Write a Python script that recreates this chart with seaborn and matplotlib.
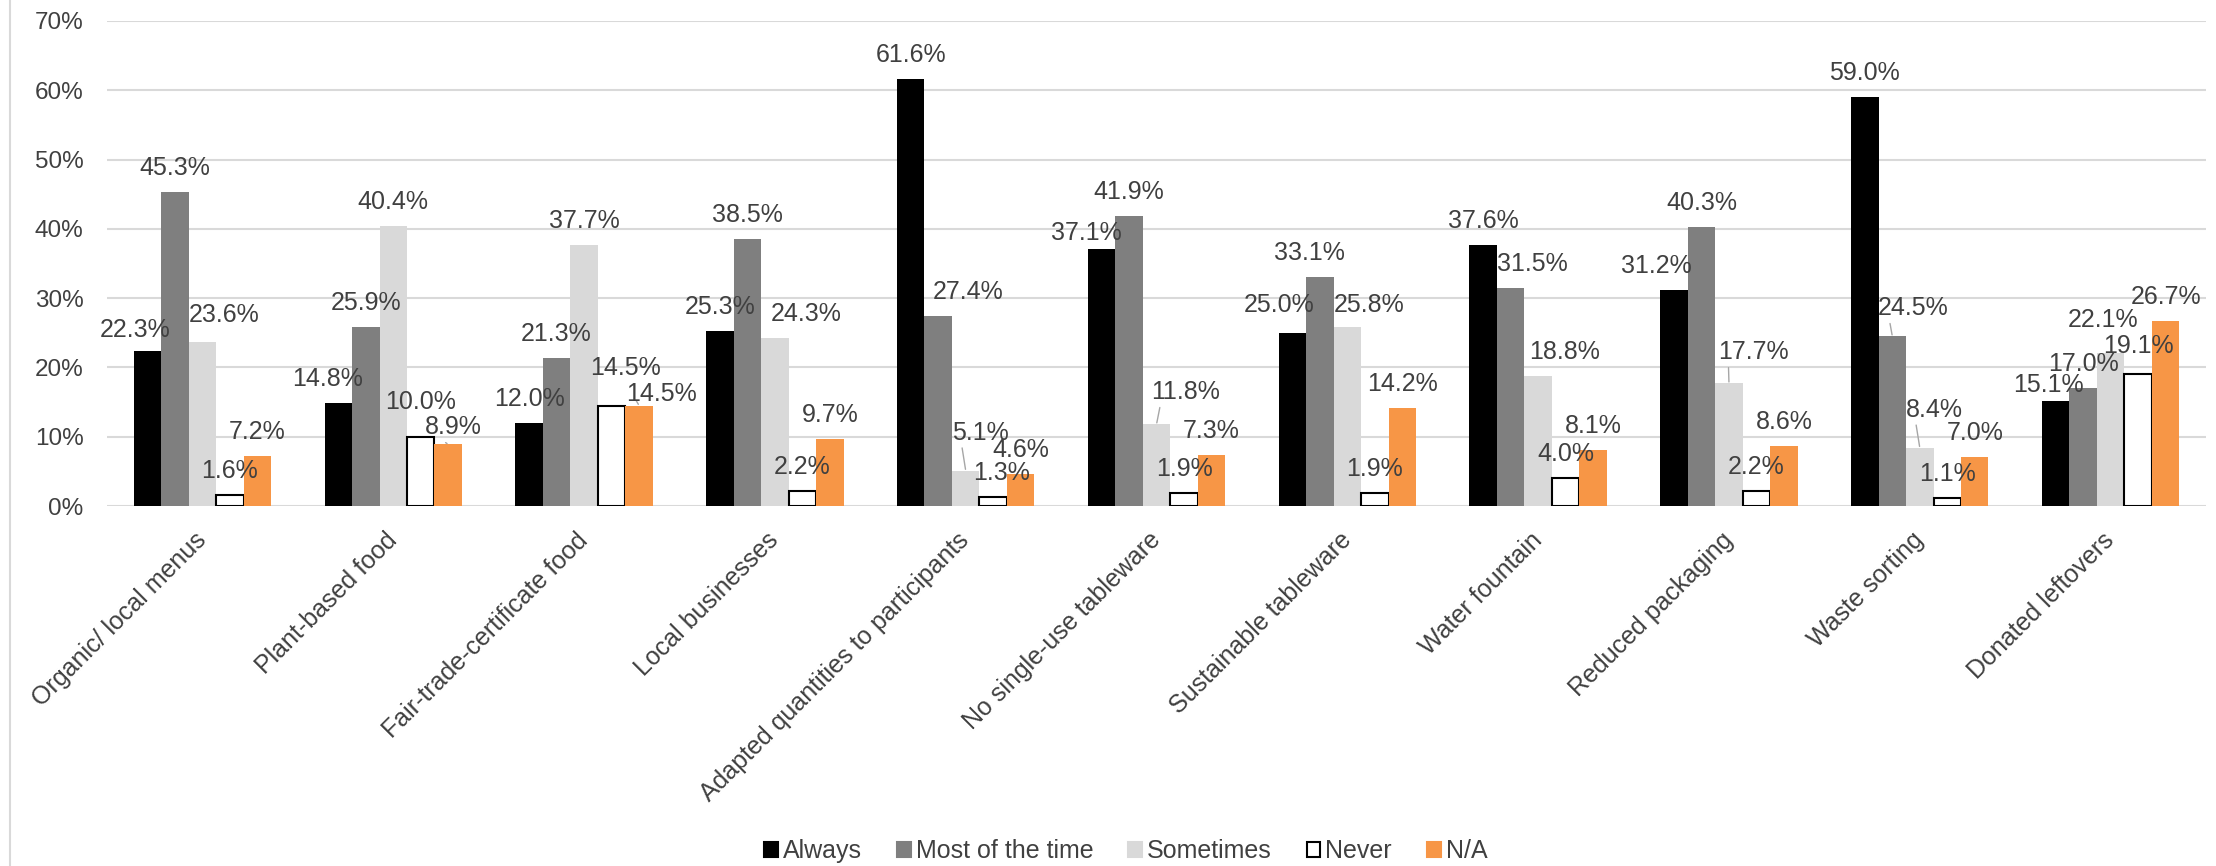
import pandas as pd
import seaborn as sns
import matplotlib.pyplot as plt
from matplotlib.patches import Patch

# survey answers, percent of respondents
categories = ['Organic/ local menus', 'Plant-based food', 'Fair-trade-certificate food',
              'Local businesses', 'Adapted quantities to participants', 'No single-use tableware',
              'Sustainable tableware', 'Water fountain', 'Reduced packaging', 'Waste sorting',
              'Donated leftovers']
responses = ['Always', 'Most of the time', 'Sometimes', 'Never', 'N/A']

always = [22.3, 14.8, 12.0, 25.3, 61.6, 37.1, 25.0, 37.6, 31.2, 59.0, 15.1]
most_of_the_time = [45.3, 25.9, 21.3, 38.5, 27.4, 41.9, 33.1, 31.5, 40.3, 24.5, 17.0]
sometimes = [23.6, 40.4, 37.7, 24.3, 5.1, 11.8, 25.8, 18.8, 17.7, 8.4, 22.1]
never = [1.6, 10.0, 14.5, 2.2, 1.3, 1.9, 1.9, 4.0, 2.2, 1.1, 19.1]
not_applicable = [7.2, 8.9, 14.5, 9.7, 4.6, 7.3, 14.2, 8.1, 8.6, 7.0, 26.7]

colors = ['#000000', '#7f7f7f', '#d9d9d9', '#ffffff', '#f79646']
text_color = '#404040'

# label nudges in pixels: (category, response) -> (dx, dy, leader line)
nudges = {
    (0, 0): (-12, -3, False), (0, 2): (22, 3, False),
    (1, 0): (-11, 0, False), (1, 3): (0, 11, False), (1, 4): (5, -7, True),
    (2, 3): (14, 14, False), (2, 4): (22, -12, True),
    (3, 2): (31, 0, False),
    (4, 1): (30, 0, False), (4, 2): (15, 14, True), (4, 3): (8, 0, False),
    (5, 0): (-15, -8, False), (5, 2): (29, 8, True),
    (6, 0): (-13, 4, False), (6, 1): (-10, 0, False), (6, 2): (22, -2, False),
    (7, 1): (22, 0, False), (7, 2): (26, 0, False),
    (8, 0): (-18, 0, False), (8, 2): (24, 7, True),
    (9, 1): (21, 4, True), (9, 2): (15, 14, True),
    (10, 0): (-7, -8, False), (10, 2): (-8, 9, False), (10, 3): (0, 4, False),
}

rows = []
for resp, vals in zip(responses, [always, most_of_the_time, sometimes, never, not_applicable]):
    for cat, v in zip(categories, vals):
        rows.append({'category': cat, 'response': resp, 'value': v})
df = pd.DataFrame(rows)

sns.set_style('white')
plt.rcParams['font.family'] = ['Liberation Sans', 'DejaVu Sans']

fig, ax = plt.subplots(figsize=(22.16, 8.66), dpi=100)
fig.subplots_adjust(left=0.0483, right=0.9955, bottom=0.4157, top=0.9758)

sns.barplot(data=df, x='category', y='value', hue='response', order=categories,
            hue_order=responses, palette=colors, width=0.72, saturation=1,
            errorbar=None, legend=False, ax=ax)

px = 0.72  # points per pixel at 100 dpi
for i, cont in enumerate(ax.containers):
    for j, bar in enumerate(cont):
        if responses[i] == 'Never':
            bar.set_edgecolor('black')
            bar.set_linewidth(1.5)
        else:
            bar.set_linewidth(0)
        x = bar.get_x() + bar.get_width() / 2
        h = bar.get_height()
        dx, dy, leader = nudges.get((j, i), (0, 0, False))
        props = None
        if leader:
            props = dict(arrowstyle='-', color='#a6a6a6', lw=1, shrinkA=0, shrinkB=1,
                         relpos=(0.15, 0.2))
        ax.annotate(f'{h:.1f}%', xy=(x, h), xytext=(dx * px, (24 + dy) * px),
                    textcoords='offset points', ha='center', va='center',
                    fontsize=18, color=text_color, arrowprops=props)

ax.set_ylim(0, 70)
ax.set_yticks(range(0, 71, 10))
ax.set_yticklabels([f'{t}%' for t in range(0, 71, 10)])
ax.set_xlabel('')
ax.set_ylabel('')
ax.yaxis.grid(True, color='#d9d9d9', lw=1.5)
ax.set_axisbelow(True)
sns.despine(ax=ax, left=True, bottom=True)

ax.tick_params(axis='y', length=0, pad=17, labelsize=17.5, labelcolor=text_color)
ax.tick_params(axis='x', length=0, pad=22, labelsize=18, labelcolor=text_color)
for lbl in ax.get_xticklabels():
    lbl.set_rotation(45)
    lbl.set_ha('right')
    lbl.set_va('center')
    lbl.set_rotation_mode('anchor')

handles = [Patch(facecolor=c, edgecolor='black' if r == 'Never' else c, linewidth=1.5)
           for r, c in zip(responses, colors)]
leg = fig.legend(handles, responses, loc='center', bbox_to_anchor=(0.508, 0.017), ncol=5,
                 frameon=False, fontsize=18, handlelength=0.55, handleheight=0.55,
                 handletextpad=0.2, columnspacing=1.4)
for t in leg.get_texts():
    t.set_color(text_color)

# chart area border on the left
fig.add_artist(plt.Line2D([10 / 2216, 10 / 2216], [0, 1], color='#d9d9d9', lw=1.5))

fig.savefig('out.png', dpi=100)
